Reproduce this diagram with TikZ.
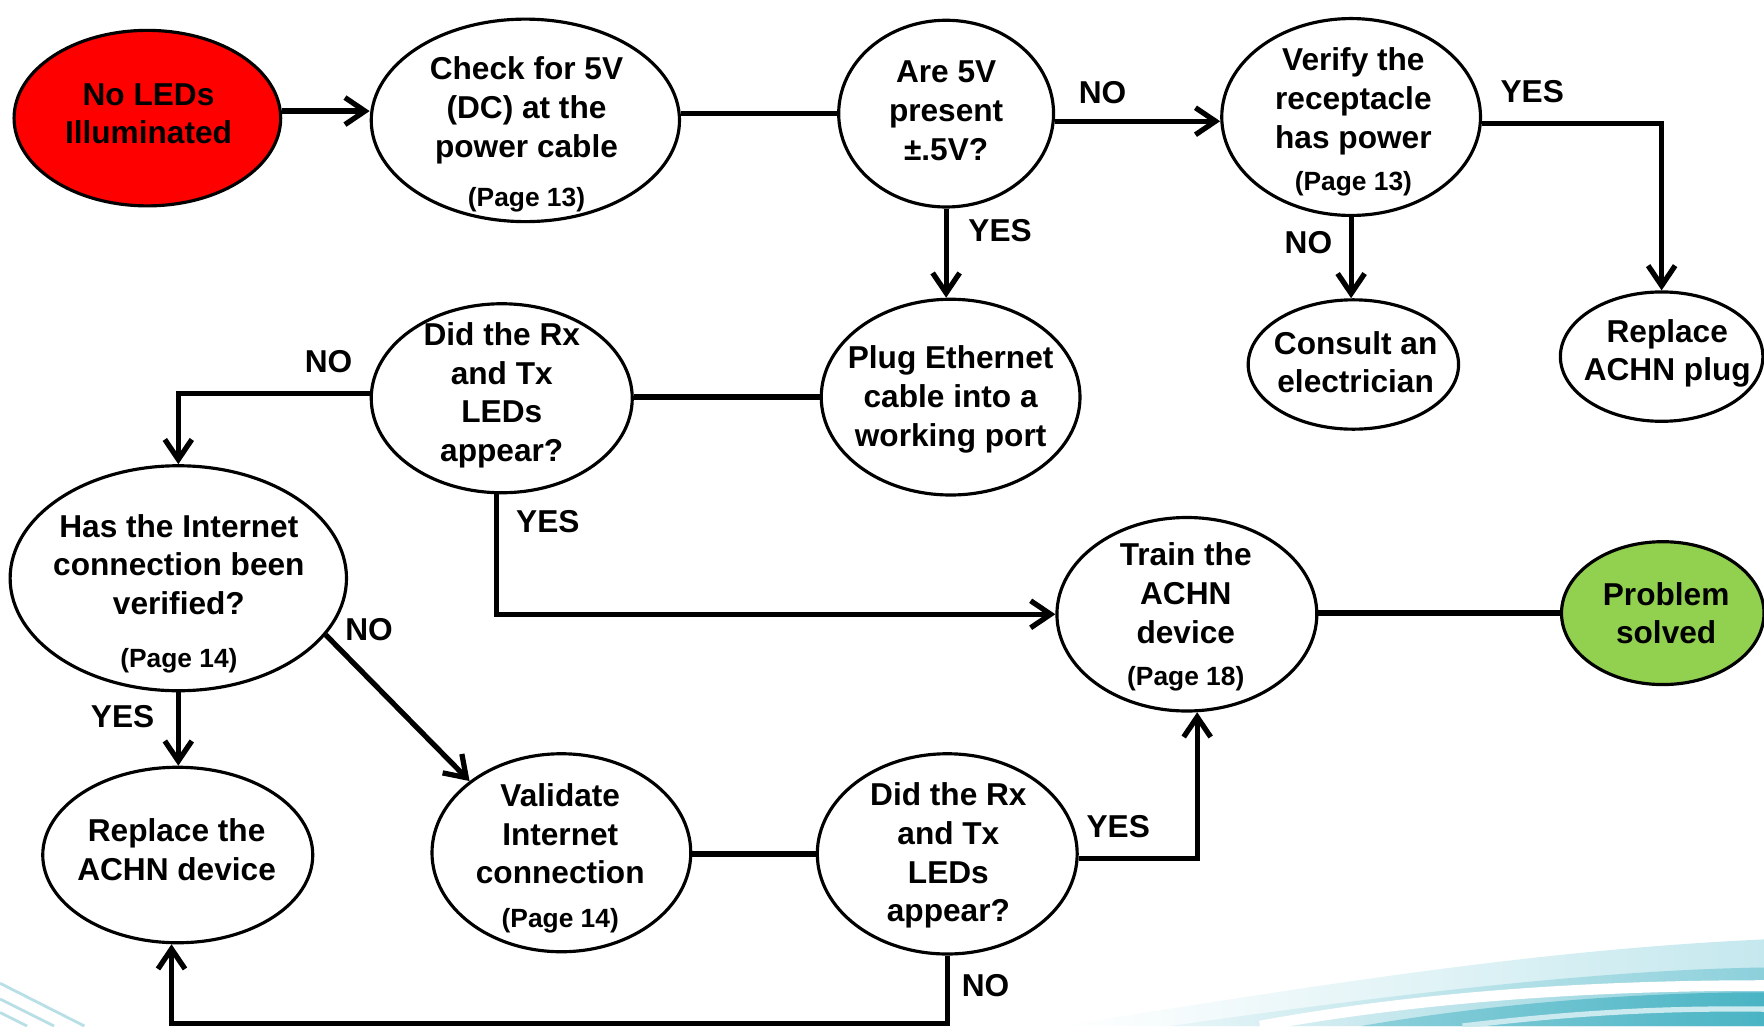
\documentclass[tikz,border=0pt]{standalone}
\usepackage{fontspec}
\setmainfont{Liberation Sans}
\usetikzlibrary{shapes.geometric,arrows.meta,calc}
\newlength\ux
\setlength\ux{0.1125mm}
\definecolor{stopred}{HTML}{FF0000}
\definecolor{okgreen}{HTML}{92D050}
\definecolor{swA}{HTML}{C5E8EE}
\definecolor{swB}{HTML}{8CD0DB}
\definecolor{swC}{HTML}{4AB4C4}
\definecolor{swL}{HTML}{B8DEE6}
\newcommand\pgtag[1]{{\fontsize{7.5}{9}\selectfont #1}}
\begin{document}
\begin{tikzpicture}[x=0.1125mm, y=-0.1125mm,
  ell/.style n args={2}{ellipse, draw, line width=0.9pt, inner sep=0pt,
    fill=white, minimum width=#1\ux, minimum height=#2\ux},
  txt/.style={font=\bfseries\fontsize{9}{11}\selectfont, align=center, inner sep=0pt},
  lbl/.style={font=\bfseries\fontsize{9}{11}\selectfont, inner sep=0pt},
  link/.style={line width=1.5pt},
  arr/.style={link, -{Straight Barb[length=2mm,width=2.7mm]}},
  swline/.style={swL, line width=0.8pt}]
\useasboundingbox (0,0) rectangle (1568,912);

% decorative wave along the bottom edge
\shade[left color=white, right color=swA]
  (940,912) .. controls (1150,880) and (1350,845) .. (1568,835) -- (1568,912) -- cycle;
\shade[left color=white!60!swA, right color=swB]
  (1040,912) .. controls (1230,885) and (1420,862) .. (1568,860) -- (1568,912) -- cycle;
\draw[white, line width=3pt]
  (1120,912) .. controls (1250,888) and (1400,876) .. (1568,876);
\shade[left color=swB, right color=swC]
  (1210,912) .. controls (1320,893) and (1450,882) .. (1568,882) -- (1568,912) -- cycle;
\draw[white!55!swB, line width=1.5pt]
  (1300,912) .. controls (1400,900) and (1480,896) .. (1568,897);
\draw[swline] (0,874) -- (75,912);
\draw[swline] (0,888) -- (48,912);
\draw[swline] (0,900) -- (24,912);

% shapes
\node[ell={237}{156}, fill=stopred] (start) at (131,105) {};
\node[txt] (start-t) at (132,101) {No LEDs\\Illuminated};

\node[ell={274}{180}] (check) at (467,107) {};
\node[txt] (check-t) at (468,119.5) {Check for 5V\\(DC) at the\\power cable\\[3pt]\pgtag{(Page 13)}};

\node[ell={191}{166}] (volt) at (841,101) {};
\node[txt] (volt-t) at (841,98.5) {Are 5V\\present\\±.5V?};

\node[ell={230}{175}] (recept) at (1201,104) {};
\node[txt] (recept-t) at (1203,108.5) {Verify the\\receptacle\\has power\\[1pt]\pgtag{(Page 13)}};

\node[ell={187}{115}] (elec) at (1203,324) {};
\node[txt] (elec-t) at (1205,322) {Consult an\\electrician};

\node[ell={180}{115}] (plug) at (1477,317) {};
\node[txt] (plug-t) at (1482,314) {Replace\\ACHN plug};

\node[ell={230}{174}] (eth) at (845,353) {};
\node[txt] (eth-t) at (845,355) {Plug Ethernet\\cable into a\\working port};

\node[ell={232}{168}] (rxa) at (446,354) {};
\node[txt] (rxa-t) at (446,351.5) {Did the Rx\\and Tx\\LEDs\\appear?};

\node[ell={299}{200}] (inet) at (158.5,514) {};
\node[txt] (inet-t) at (159,527.5) {Has the Internet\\connection been\\verified?\\[4pt]\pgtag{(Page 14)}};

\node[ell={240}{156}] (repl) at (158,760) {};
\node[txt] (repl-t) at (157,755) {Replace the\\ACHN device};

\node[ell={230}{176}] (valid) at (499,758) {};
\node[txt] (valid-t) at (498,763) {Validate\\Internet\\connection\\[1.5pt]\pgtag{(Page 14)}};

\node[ell={231}{178}] (rxb) at (842,759) {};
\node[txt] (rxb-t) at (843,760.5) {Did the Rx\\and Tx\\LEDs\\appear?};

\node[ell={231}{172}] (train) at (1055,546) {};
\node[txt] (train-t) at (1054,548.5) {Train the\\ACHN\\device\\[1pt]\pgtag{(Page 18)}};

\node[ell={180}{127}, fill=okgreen] (solved) at (1478,545) {};
\node[txt] (solved-t) at (1481,545) {Problem\\solved};

\coordinate (floor) at (0,910);

% connectors
\draw[arr] (start.3.4) -- (start.3.4 -| check.west);
\draw[link] (check.east |- volt.west) -- (volt.west);
\draw[arr] (volt.-4.2) -- (volt.-4.2 -| recept.west);
\draw[arr] (volt.south) -- (volt.south |- eth.north);
\draw[arr] (recept.-3) -| (plug.north);
\draw[arr] (recept.south) -- (recept.south |- elec.north);
\draw[link] (rxa.east |- eth.west) -- (eth.west);
\draw[arr] (rxa.178) -| (inet.north);
\draw[arr] (rxa.-93.4) |- (train.west);
\draw[arr] (inet.-21.6) -- (valid.142.5);
\draw[arr] (inet.south) -- (inet.south |- repl.north);
\draw[link] (valid.east |- rxb.west) -- (rxb.west);
\draw[arr] (rxb.-2) -| (train.-84.7);
\draw[arr] (rxb.south) -- (rxb.south |- floor) -| (repl.-94.4);
\draw[link] (train.east |- solved.west) -- (solved.west);

% branch labels
\node[lbl] (l-volt-no) at (980,82) {NO};
\node[lbl] (l-volt-yes) at (889,205) {YES};
\node[lbl] (l-rec-yes) at (1362,81) {YES};
\node[lbl] (l-rec-no) at (1163,216) {NO};
\node[lbl] (l-rxa-no) at (292,321) {NO};
\node[lbl] (l-rxa-yes) at (487,464) {YES};
\node[lbl] (l-inet-no) at (328,560) {NO};
\node[lbl] (l-inet-yes) at (109,637) {YES};
\node[lbl] (l-rxb-yes) at (994,735) {YES};
\node[lbl] (l-rxb-no) at (876,876) {NO};
\end{tikzpicture}
\end{document}
